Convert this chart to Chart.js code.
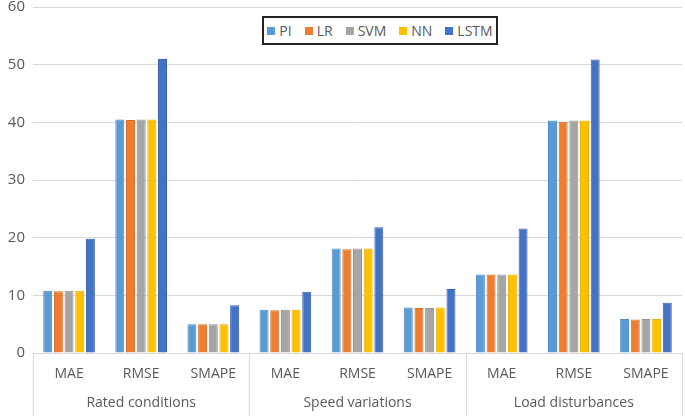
<!DOCTYPE html>
<html>
<head>
<meta charset="utf-8">
<script src="https://cdn.jsdelivr.net/npm/chart.js@4"></script>
<style>
  html, body { margin: 0; padding: 0; background: #fff; }
  #wrap { position: relative; width: 685px; height: 416px; }
  #legend {
    position: absolute; left: 262px; top: 16px; width: 232px; height: 25px;
    border: 2px solid #222; background: #fff;
    display: flex; align-items: center; justify-content: center; gap: 13px;
    font-family: 'Open Sans', sans-serif; font-size: 14px; color: #595959;
  }
  #legend span.sw { display: inline-block; width: 8px; height: 8px; margin-right: 4px; vertical-align: 1px; }
</style>
</head>
<body>
<div id="wrap">
  <canvas id="chart" width="685" height="416"></canvas>
  <div id="legend"></div>
</div>
<script>
// categories (metric under each condition)
const metrics = ['MAE', 'RMSE', 'SMAPE', 'MAE', 'RMSE', 'SMAPE', 'MAE', 'RMSE', 'SMAPE'];
const groups = ['Rated conditions', 'Speed variations', 'Load disturbances'];

// series values
const piVals   = [10.8, 40.5, 5.0, 7.5, 18.1, 7.9, 13.6, 40.3, 5.9];
const lrVals   = [10.7, 40.4, 5.0, 7.4, 18.0, 7.8, 13.6, 40.1, 5.8];
const svmVals  = [10.8, 40.5, 5.0, 7.5, 18.1, 7.8, 13.6, 40.3, 5.9];
const nnVals   = [10.8, 40.5, 5.0, 7.5, 18.1, 7.9, 13.6, 40.3, 5.9];
const lstmVals = [19.8, 51.0, 8.3, 10.6, 21.8, 11.1, 21.6, 50.9, 8.7];

const seriesNames = ['PI', 'LR', 'SVM', 'NN', 'LSTM'];
const yTicks = [0, 10, 20, 30, 40, 50, 60];

const colors  = ['#5B9BD5', '#ED7D31', '#A5A5A5', '#FFC000', '#4472C4'];
const borders = ['#4a8ac4', '#d96c22', '#939393', '#e8ae00', '#3461b3'];

const allVals = [piVals, lrVals, svmVals, nnVals, lstmVals];

const datasets = seriesNames.map((name, i) => ({
  label: name,
  data: allVals[i],
  backgroundColor: colors[i],
  borderColor: borders[i],
  borderWidth: 1,
  barPercentage: 0.84,
  categoryPercentage: 0.74
}));

// html legend
const legendEl = document.getElementById('legend');
seriesNames.forEach((name, i) => {
  const item = document.createElement('div');
  item.innerHTML = `<span class="sw" style="background:${colors[i]}"></span>${name}`;
  legendEl.appendChild(item);
});

// group labels + dividers under the x axis
const groupAxis = {
  id: 'groupAxis',
  afterDraw(chart) {
    const { ctx, chartArea } = chart;
    const left = chartArea.left, right = chartArea.right;
    const w = (right - left) / groups.length;
    ctx.save();
    ctx.strokeStyle = '#d9d9d9';
    ctx.lineWidth = 1;
    for (let k = 0; k <= groups.length; k++) {
      const x = Math.round(left + w * k) + 0.5;
      ctx.beginPath();
      ctx.moveTo(x, chartArea.bottom);
      ctx.lineTo(x, chart.height);
      ctx.stroke();
    }
    ctx.fillStyle = '#595959';
    ctx.font = "14px 'Open Sans', sans-serif";
    ctx.textAlign = 'center';
    ctx.textBaseline = 'middle';
    groups.forEach((g, k) => {
      ctx.fillText(g, left + w * (k + 0.5), 403);
    });
    ctx.restore();
  }
};

new Chart(document.getElementById('chart'), {
  type: 'bar',
  data: { labels: metrics, datasets },
  plugins: [groupAxis],
  options: {
    responsive: false,
    animation: false,
    layout: { padding: { left: 0, right: 3, top: 7, bottom: 0 } },
    plugins: {
      legend: { display: false },
      tooltip: { enabled: false }
    },
    scales: {
      x: {
        grid: { display: false },
        border: { color: '#d9d9d9', width: 1 },
        ticks: {
          color: '#595959',
          padding: 5,
          font: { family: "'Open Sans', sans-serif", size: 14 }
        },
        afterFit: s => { s.height = 63; s.paddingLeft = 0; s.paddingRight = 0; }
      },
      y: {
        min: 0,
        max: 60,
        afterBuildTicks: s => { s.ticks = yTicks.map(v => ({ value: v })); },
        grid: { color: '#d9d9d9', drawTicks: false },
        border: { display: false },
        ticks: {
          color: '#595959',
          padding: 8,
          font: { family: "'Open Sans', sans-serif", size: 15 }
        },
        afterFit: s => { s.width = 33; s.paddingTop = 0; s.paddingBottom = 0; }
      }
    }
  }
});
</script>
</body>
</html>
